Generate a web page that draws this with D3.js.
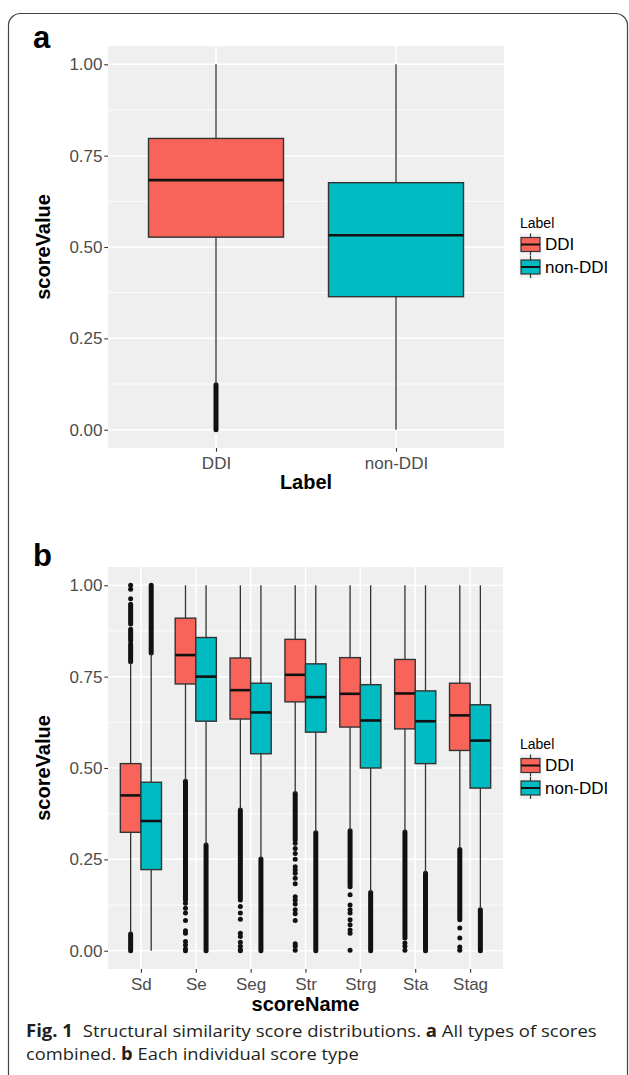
<!DOCTYPE html>
<html><head><meta charset="utf-8">
<script src="https://cdn.jsdelivr.net/npm/d3@7"></script>
<style>body{margin:0;background:#fff} svg{display:block}</style>
</head><body>
<svg id="chart" width="629" height="1075"></svg>
<script>
// ---------------- DATA ----------------
const groups = ["DDI", "non-DDI"];
const yTicks = [0, 0.25, 0.5, 0.75, 1];
const yMinorTicks = [0.125, 0.375, 0.625, 0.875];

// Panel a: all score types combined, by Label
const panelALabels = ["DDI", "non-DDI"];
const panelALowerWhisker = [0.125, 0.0];
const panelAQ1 = [0.527, 0.364];
const panelAMedian = [0.683, 0.532];
const panelAQ3 = [0.797, 0.676];
const panelAUpperWhisker = [1.0, 1.0];
const panelAOutlierBands = [[[0, 0.123]], []];   // dense runs of outliers [from, to]
const panelAOutlierPoints = [[], []];

// Panel b: each score type
const scoreNames = ["Sd", "Se", "Seg", "Str", "Strg", "Sta", "Stag"];
const ddiLowerWhisker = [0.048, 0.466, 0.387, 0.432, 0.330, 0.327, 0.279];
const ddiQ1 = [0.324, 0.730, 0.634, 0.681, 0.612, 0.607, 0.548];
const ddiMedian = [0.425, 0.809, 0.713, 0.755, 0.703, 0.704, 0.644];
const ddiQ3 = [0.512, 0.910, 0.801, 0.852, 0.802, 0.797, 0.732];
const ddiUpperWhisker = [0.789, 1, 1, 1, 1, 1, 1];
const nonLowerWhisker = [0.0, 0.291, 0.253, 0.325, 0.161, 0.214, 0.114];
const nonQ1 = [0.222, 0.628, 0.539, 0.598, 0.500, 0.512, 0.445];
const nonMedian = [0.355, 0.750, 0.652, 0.694, 0.630, 0.628, 0.575];
const nonQ3 = [0.461, 0.857, 0.732, 0.785, 0.728, 0.711, 0.673];
const nonUpperWhisker = [0.813, 1, 1, 1, 1, 1, 1];

const ddiOutlierBands = [
  [[0, 0.046], [0.791, 0.839], [0.848, 0.880], [0.894, 0.948]],
  [[0.139, 0.464]],
  [[0.139, 0.385]],
  [[0.303, 0.430]],
  [[0.175, 0.328]],
  [[0.035, 0.325]],
  [[0.085, 0.277]]
];
const ddiOutlierPoints = [
  [0.963, 0.989, 1.0],
  [0.130, 0.116, 0.103, 0.083, 0.055, 0.048, 0.025, 0.016, 0.005, 0.0],
  [0.121, 0.103, 0.086, 0.048, 0.039, 0.023, 0.012, 0.003, 0.0],
  [0.294, 0.280, 0.266, 0.250, 0.230, 0.221, 0.212, 0.198, 0.183, 0.148, 0.139, 0.128, 0.112, 0.101, 0.083, 0.019, 0.012, 0.001],
  [0.153, 0.125, 0.112, 0.103, 0.085, 0.071, 0.057, 0.048, 0.001],
  [0.021, 0.012, 0.001],
  [0.062, 0.035, 0.010, 0.001]
];
const nonOutlierBands = [
  [[0.815, 1.0]],
  [[0, 0.289]],
  [[0, 0.251]],
  [[0, 0.323]],
  [[0, 0.159]],
  [[0, 0.212]],
  [[0, 0.112]]
];
const nonOutlierPoints = [[], [], [], [], [], [], []];

// ---------------- DRAWING ----------------
const FONT = "'Liberation Sans', Arial, Helvetica, sans-serif";
const color = d3.scaleOrdinal().domain(groups).range(["#F9645A", "#00BBC1"]);
const svg = d3.select("#chart");

// figure frame
svg.append("rect").attr("x", 8.5).attr("y", 13.5).attr("width", 619).attr("height", 1110)
  .attr("rx", 12).attr("ry", 12).attr("fill", "none").attr("stroke", "#444").attr("stroke-width", 1.2);

function drawPanel(cfg) {
  const g = svg.append("g");
  const x = d3.scalePoint().domain(cfg.categories).range([cfg.left, cfg.right]).padding(0.6);
  const y = d3.scaleLinear().domain([-0.05, 1.05]).range([cfg.bottom, cfg.top]);
  const step = x.step();

  g.append("rect").attr("x", cfg.left).attr("y", cfg.top)
    .attr("width", cfg.right - cfg.left).attr("height", cfg.bottom - cfg.top).attr("fill", "#EFEFEF");
  g.selectAll(".minor").data(yMinorTicks).join("line")
    .attr("x1", cfg.left).attr("x2", cfg.right).attr("y1", d => y(d)).attr("y2", d => y(d))
    .attr("stroke", "#fff").attr("stroke-width", 0.8);
  g.selectAll(".major").data(yTicks).join("line")
    .attr("x1", cfg.left).attr("x2", cfg.right).attr("y1", d => y(d)).attr("y2", d => y(d))
    .attr("stroke", "#fff").attr("stroke-width", 1.5);
  g.selectAll(".vmajor").data(cfg.categories).join("line")
    .attr("x1", d => x(d)).attr("x2", d => x(d)).attr("y1", cfg.top).attr("y2", cfg.bottom)
    .attr("stroke", "#fff").attr("stroke-width", 1.5);

  cfg.boxes.forEach(b => {
    const cx = x(b.cat) + b.offset * step;
    const hw = b.width * step / 2;
    // outliers
    b.bands.forEach(r => {
      g.append("line").attr("x1", cx).attr("x2", cx).attr("y1", y(r[0])).attr("y2", y(r[1]))
        .attr("stroke", "#111").attr("stroke-width", 5).attr("stroke-linecap", "round");
    });
    g.selectAll(null).data(b.points).join("circle")
      .attr("cx", cx).attr("cy", d => y(d)).attr("r", 2.5).attr("fill", "#111");
    // whiskers
    g.append("line").attr("x1", cx).attr("x2", cx).attr("y1", y(b.lw)).attr("y2", y(b.q1))
      .attr("stroke", "#333").attr("stroke-width", 1.3);
    g.append("line").attr("x1", cx).attr("x2", cx).attr("y1", y(b.q3)).attr("y2", y(b.uw))
      .attr("stroke", "#333").attr("stroke-width", 1.3);
    // box
    g.append("rect").attr("x", cx - hw).attr("width", 2 * hw)
      .attr("y", y(b.q3)).attr("height", y(b.q1) - y(b.q3))
      .attr("fill", b.color).attr("stroke", "#333").attr("stroke-width", 1.4);
    g.append("line").attr("x1", cx - hw).attr("x2", cx + hw).attr("y1", y(b.med)).attr("y2", y(b.med))
      .attr("stroke", "#111").attr("stroke-width", 2.6);
  });

  // axes
  const ya = g.append("g").attr("transform", `translate(${cfg.left},0)`)
    .call(d3.axisLeft(y).tickValues(yTicks).tickFormat(d3.format(".2f")).tickSize(3.7).tickPadding(1.8));
  ya.select(".domain").remove();
  ya.selectAll("line").attr("stroke", "#333").attr("stroke-width", 1.1);
  ya.selectAll("text").attr("font-size", 17).attr("font-family", FONT).attr("fill", "#4D4D4D");

  const xa = g.append("g").attr("transform", `translate(0,${cfg.bottom})`)
    .call(d3.axisBottom(x).tickSize(3.7).tickPadding(4.8));
  xa.select(".domain").remove();
  xa.selectAll("line").attr("stroke", "#333").attr("stroke-width", 1.1);
  xa.selectAll("text").attr("font-size", 17).attr("font-family", FONT).attr("fill", "#4D4D4D");

  // titles
  const cy = (cfg.top + cfg.bottom) / 2;
  g.append("text").attr("transform", `translate(50,${cy}) rotate(-90)`).attr("text-anchor", "middle")
    .attr("font-family", FONT).attr("font-weight", "bold").attr("font-size", 20).text(cfg.yTitle);
  g.append("text").attr("x", (cfg.left + cfg.right) / 2).attr("y", cfg.xTitleY).attr("text-anchor", "middle")
    .attr("font-family", FONT).attr("font-weight", "bold").attr("font-size", 20).text(cfg.xTitle);
  g.append("text").attr("x", 33).attr("y", cfg.letterY)
    .attr("font-family", FONT).attr("font-weight", "bold").attr("font-size", 31).text(cfg.letter);

  // legend
  const lg = g.append("g");
  lg.append("text").attr("x", 520).attr("y", cy - 19).attr("font-family", FONT).attr("font-size", 14).text("Label");
  groups.forEach((grp, i) => {
    const kc = cy - 2.5 + i * 22.5;
    lg.append("rect").attr("x", 519.5).attr("y", kc - 11).attr("width", 22).attr("height", 22).attr("fill", "#F2F2F2");
    lg.append("line").attr("x1", 530.5).attr("x2", 530.5).attr("y1", kc - 11).attr("y2", kc + 11)
      .attr("stroke", "#333").attr("stroke-width", 1.2);
    lg.append("rect").attr("x", 521).attr("y", kc - 7).attr("width", 19).attr("height", 14)
      .attr("fill", color(grp)).attr("stroke", "#333").attr("stroke-width", 1.2);
    lg.append("line").attr("x1", 521).attr("x2", 540).attr("y1", kc).attr("y2", kc)
      .attr("stroke", "#111").attr("stroke-width", 2);
    lg.append("text").attr("x", 545).attr("y", kc).attr("dy", "0.35em")
      .attr("font-family", FONT).attr("font-size", 17).text(grp);
  });
}

// Panel a
drawPanel({
  left: 108, right: 504, top: 46, bottom: 448,
  categories: panelALabels, yTitle: "scoreValue", xTitle: "Label", xTitleY: 489,
  letter: "a", letterY: 48,
  boxes: panelALabels.map((c, i) => ({
    cat: c, offset: 0, width: 0.75, color: color(c),
    lw: panelALowerWhisker[i], q1: panelAQ1[i], med: panelAMedian[i], q3: panelAQ3[i], uw: panelAUpperWhisker[i],
    bands: panelAOutlierBands[i], points: panelAOutlierPoints[i]
  }))
});

// Panel b
const boxesB = [];
scoreNames.forEach((s, i) => {
  boxesB.push({ cat: s, offset: -0.1875, width: 0.375, color: color("DDI"),
    lw: ddiLowerWhisker[i], q1: ddiQ1[i], med: ddiMedian[i], q3: ddiQ3[i], uw: ddiUpperWhisker[i],
    bands: ddiOutlierBands[i], points: ddiOutlierPoints[i] });
  boxesB.push({ cat: s, offset: 0.1875, width: 0.375, color: color("non-DDI"),
    lw: nonLowerWhisker[i], q1: nonQ1[i], med: nonMedian[i], q3: nonQ3[i], uw: nonUpperWhisker[i],
    bands: nonOutlierBands[i], points: nonOutlierPoints[i] });
});
drawPanel({
  left: 108, right: 503, top: 567, bottom: 969,
  categories: scoreNames, yTitle: "scoreValue", xTitle: "scoreName", xTitleY: 1011,
  letter: "b", letterY: 566,
  boxes: boxesB
});

// Caption
const CAP = "'Open Sans', 'Noto Sans', sans-serif";
function captionLine(yPos, parts, target) {
  const t = svg.append("text").attr("y", 0).attr("font-family", CAP).attr("font-size", 17).attr("fill", "#231F20");
  parts.forEach(p => {
    const ts = t.append("tspan").text(p.t);
    if (p.b) ts.attr("font-weight", "bold");
    if (p.dx) ts.attr("dx", p.dx);
  });
  const w = t.node().getComputedTextLength();
  t.attr("transform", `translate(26,${yPos}) scale(${target / w},1)`);
}
captionLine(1037, [{t: "Fig. 1", b: true}, {t: "Structural similarity score distributions. ", dx: 9},
  {t: "a", b: true}, {t: " All types of scores"}], 561);
captionLine(1060, [{t: "combined. "}, {t: "b", b: true}, {t: " Each individual score type"}], 333);
</script>
</body></html>
